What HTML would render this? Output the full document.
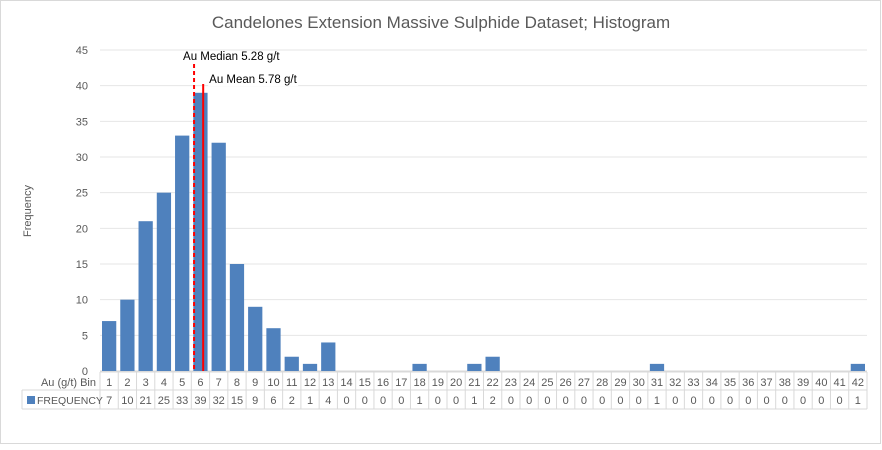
<!DOCTYPE html>
<html><head><meta charset="utf-8"><style>
body{margin:0;background:#fff;font-family:"Liberation Sans",sans-serif}
svg text{font-family:"Liberation Sans",sans-serif}
</style></head><body>
<svg width="882" height="445" xmlns="http://www.w3.org/2000/svg">
<rect x="0.5" y="0.5" width="880" height="443" fill="#fff" stroke="#d9d9d9"/>
<text x="441" y="28" text-anchor="middle" font-size="17" fill="#595959">Candelones Extension Massive Sulphide Dataset; Histogram</text>
<text transform="translate(31,211) rotate(-90)" text-anchor="middle" font-size="11" fill="#595959">Frequency</text>
<g id="grid"></g><g id="bars"></g><g id="table"></g><g id="marks"></g>
</svg>
<script>
const bins=[1,2,3,4,5,6,7,8,9,10,11,12,13,14,15,16,17,18,19,20,21,22,23,24,25,26,27,28,29,30,31,32,33,34,35,36,37,38,39,40,41,42];
const freq=[7,10,21,25,33,39,32,15,9,6,2,1,4,0,0,0,0,1,0,0,1,2,0,0,0,0,0,0,0,0,1,0,0,0,0,0,0,0,0,0,0,1];
const yTicks=[0,5,10,15,20,25,30,35,40,45];
const medianVal=5.28, meanVal=5.78;
const NS="http://www.w3.org/2000/svg";
const X0=100,X1=867,Y0=371,Y45=50,cw=(X1-X0)/bins.length;
const y=v=>Y0-(v/45)*(Y0-Y45);
const xb=i=>X0+i*cw;
const xv=v=>X0+(v-0.13)*cw;
function mk(t,a,p){const e=document.createElementNS(NS,t);for(const k in a)e.setAttribute(k,a[k]);p.appendChild(e);return e;}
const g=document.getElementById('grid');
yTicks.forEach(t=>{
 const l=mk('line',{x1:X0,x2:X1,y1:y(t),y2:y(t),stroke:t===0?'#d9d9d9':'#e6e6e6'},g);
 
 
 const tx=mk('text',{x:88,y:y(t)+4,'text-anchor':'end','font-size':11,fill:'#595959'},g);tx.textContent=t;
 
 
});
const b=document.getElementById('bars');
freq.forEach((f,i)=>{
 const r=mk('rect',{x:xb(i)+2,y:y(f),width:cw-4,height:Y0-y(f),fill:'#4f81bd'},b);
 
 
});
const tb=document.getElementById('table');
const R0=372,R1=390,R2=409;
[R0,R1,R2].forEach((yy,k)=>mk('line',{x1:k===0?X0:22,x2:X1,y1:yy,y2:yy,stroke:'#d9d9d9'},tb));
mk('line',{x1:22,x2:22,y1:R1,y2:R2,stroke:'#d9d9d9'},tb);
for(let i=0;i<=bins.length;i++)mk('line',{x1:xb(i),x2:xb(i),y1:R0,y2:R2,stroke:'#d9d9d9'},tb);
const h=mk('text',{x:96,y:386,'text-anchor':'end','font-size':11,fill:'#595959'},tb);h.textContent='Au (g/t) Bin';


const lg=mk('rect',{x:27,y:396,width:8,height:8,fill:'#4f81bd'},tb);


const lt=mk('text',{x:37,y:404,'font-size':10.5,fill:'#595959'},tb);lt.textContent='FREQUENCY';


bins.forEach((c,i)=>{
 const a=mk('text',{x:xb(i)+cw/2,y:386,'text-anchor':'middle','font-size':11,fill:'#595959'},tb);a.textContent=c;
 
 
 const v=mk('text',{x:xb(i)+cw/2,y:404,'text-anchor':'middle','font-size':11,fill:'#595959'},tb);v.textContent=freq[i];
 
 
});
const m=document.getElementById('marks');
const ml=mk('line',{x1:xv(medianVal),x2:xv(medianVal),y1:64,y2:Y0,stroke:'#ff0000','stroke-width':2,'stroke-dasharray':'4,3'},m);


const al=mk('line',{x1:xv(meanVal),x2:xv(meanVal),y1:84,y2:Y0,stroke:'#ff0000','stroke-width':2},m);


const mt=mk('text',{x:xv(medianVal)-11,y:60,'font-size':11.5,fill:'#000'},m);mt.textContent='Au Median '+medianVal+' g/t';


mk('rect',{x:xv(meanVal)+5,y:70,width:90,height:16,fill:'#fff'},m);
const at=mk('text',{x:xv(meanVal)+6,y:83,'font-size':11.5,fill:'#000'},m);at.textContent='Au Mean '+meanVal+' g/t';


</script>
</body></html>
